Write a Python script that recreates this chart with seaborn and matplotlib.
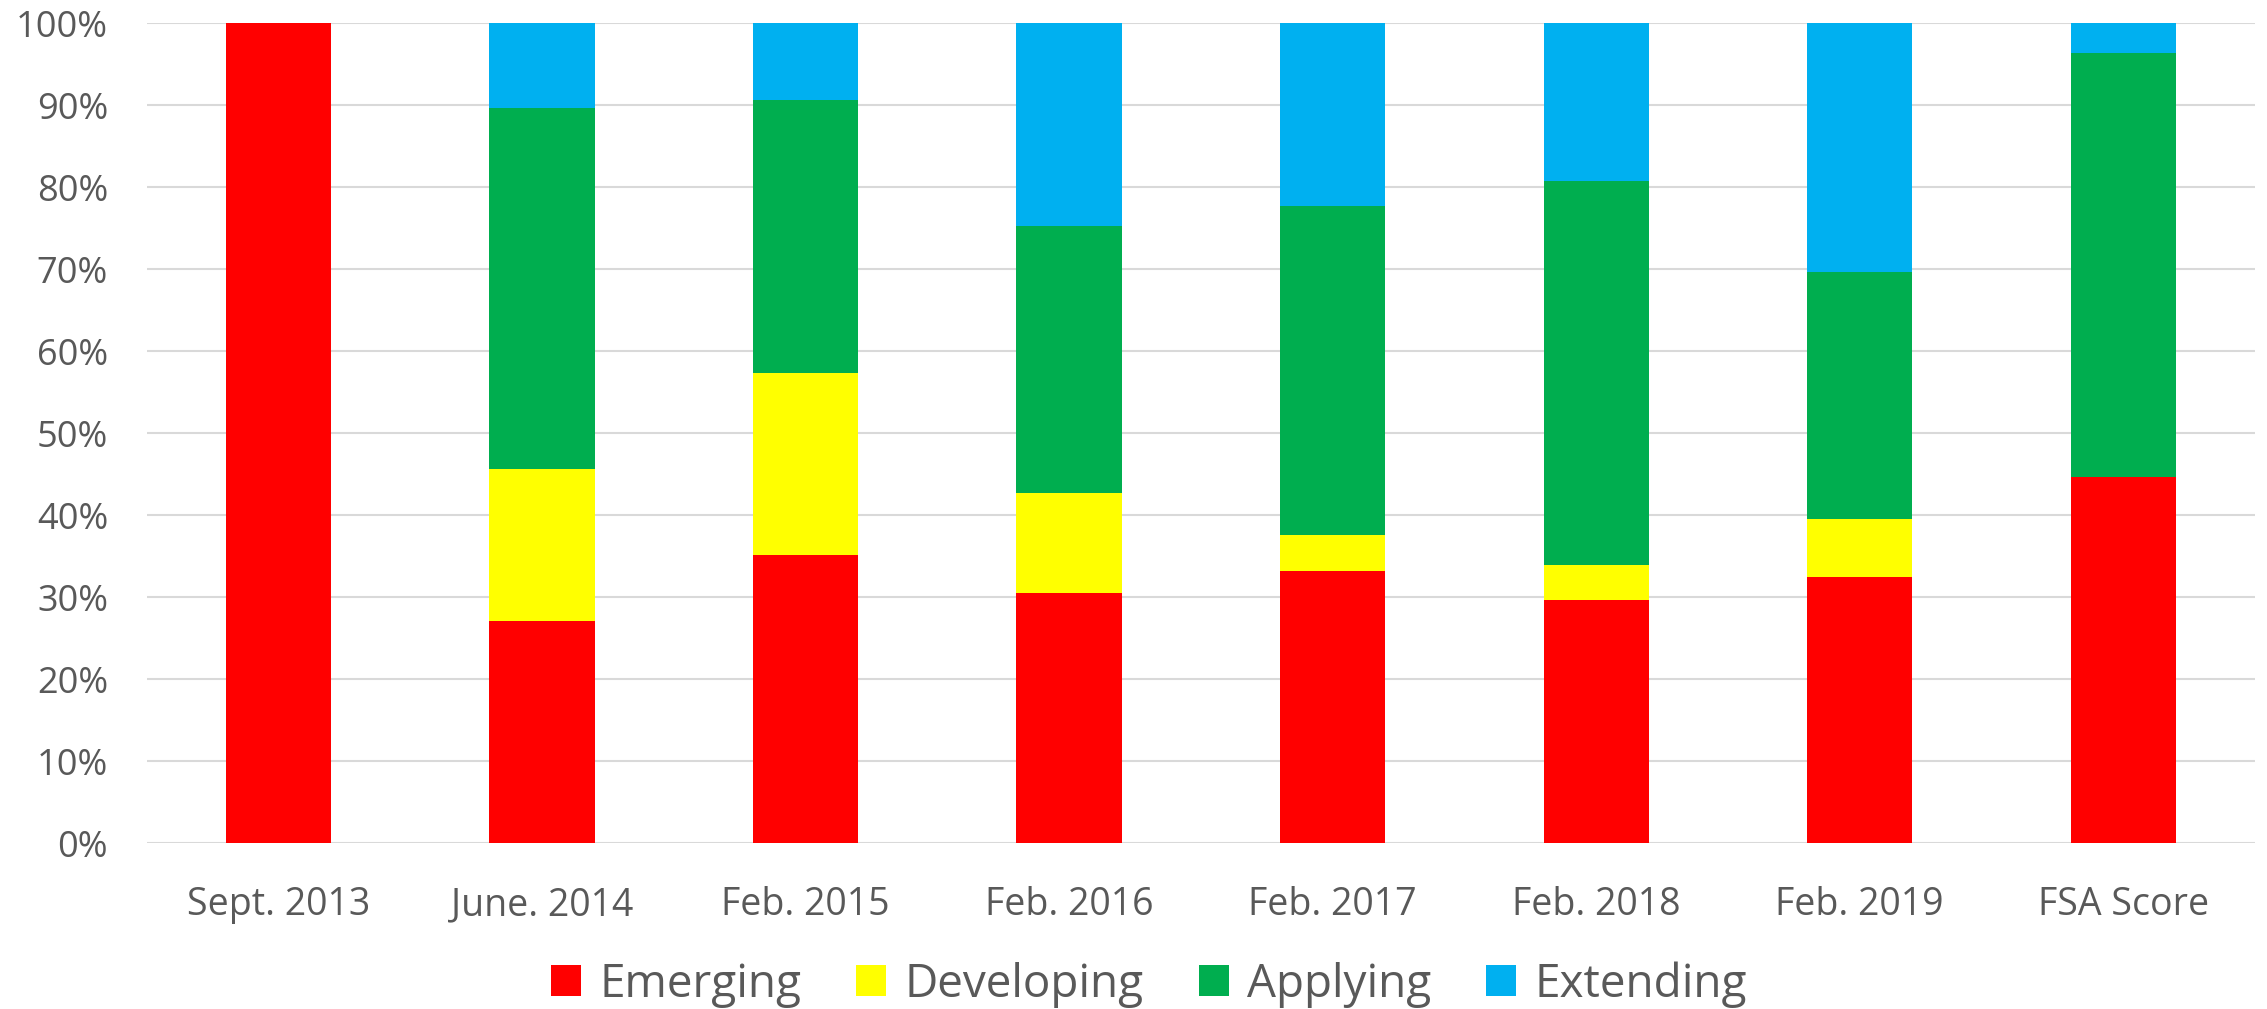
import matplotlib
matplotlib.use("Agg")
import matplotlib.pyplot as plt
import seaborn as sns
import pandas as pd
import numpy as np
from matplotlib.patches import Patch
from matplotlib.ticker import PercentFormatter

categories = ["Sept. 2013", "June. 2014", "Feb. 2015", "Feb. 2016",
              "Feb. 2017", "Feb. 2018", "Feb. 2019", "FSA Score"]
emerging = [100.0, 27.1, 35.1, 30.5, 33.2, 29.7, 32.5, 44.6]
developing = [0.0, 18.5, 22.2, 12.2, 4.4, 4.2, 7.0, 0.0]
applying = [0.0, 44.1, 33.3, 32.6, 40.1, 46.8, 30.2, 51.8]
extending = [0.0, 10.3, 9.4, 24.7, 22.3, 19.3, 30.3, 3.6]

series_names = ["Emerging", "Developing", "Applying", "Extending"]
series_colors = ["#FF0000", "#FFFF00", "#00AE4F", "#00B0F0"]

sns.set_theme(style="white")
plt.rcParams["font.family"] = ["Open Sans", "DejaVu Sans"]
text_color = "#595959"

df = pd.DataFrame({"category": categories, "Emerging": emerging,
                   "Developing": developing, "Applying": applying,
                   "Extending": extending})
cum = df[series_names].cumsum(axis=1)

fig = plt.figure(figsize=(22.67, 10.09), dpi=100)
ax = fig.add_axes([0.0648, 0.1645, 0.9299, 0.8125])

# draw from top layer down so lower layers cover upper cumulative bars
for name, color in reversed(list(zip(series_names, series_colors))):
    sns.barplot(data=pd.DataFrame({"category": categories, "v": cum[name]}),
                x="category", y="v", color=color, width=0.4,
                saturation=1, ax=ax, linewidth=0, zorder=3)

ax.set_ylim(0, 100)
ax.set_xlim(-0.5, len(categories) - 0.5)
ax.set_yticks(np.arange(0, 101, 10))
ax.yaxis.set_major_formatter(PercentFormatter(decimals=0))
ax.grid(axis="y", color="#D9D9D9", linewidth=1.5, zorder=0)
ax.grid(axis="x", visible=False)
ax.set_axisbelow(True)
for s in ax.spines.values():
    s.set_visible(False)
ax.set_xlabel("")
ax.set_ylabel("")
ax.tick_params(axis="both", length=0, colors=text_color)
ax.tick_params(axis="x", pad=31, labelsize=27)
ax.tick_params(axis="y", pad=28, labelsize=26)

handles = [Patch(facecolor=c, edgecolor="none", label=n)
           for n, c in zip(series_names, series_colors)]
leg = fig.legend(handles=handles, loc="center", bbox_to_anchor=(0.5069, 0.0245),
                 ncol=4, frameon=False, fontsize=33, handlelength=0.655,
                 handleheight=0.655, handletextpad=0.4, columnspacing=1.2,
                 labelcolor=text_color, borderpad=0, borderaxespad=0)

fig.savefig("out.png", dpi=100)
